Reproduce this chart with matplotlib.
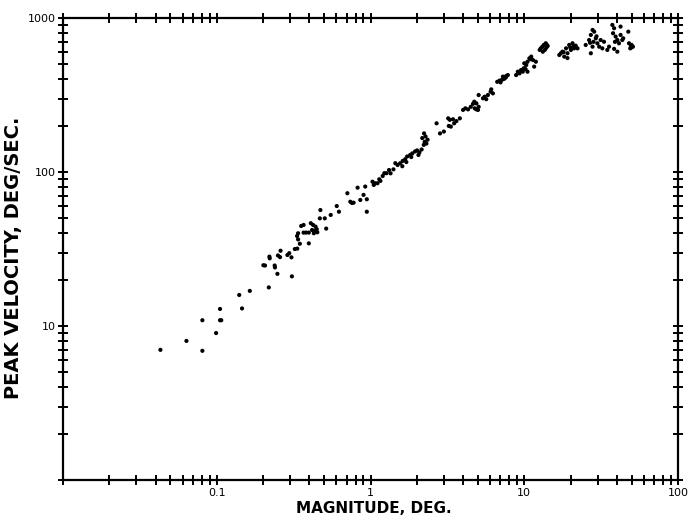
import numpy as np
import matplotlib.pyplot as plt
from matplotlib.ticker import FixedLocator, LogLocator, NullFormatter

# saccade magnitude (deg) vs peak velocity (deg/sec)
magnitude = [0.043, 0.0635, 0.0806, 0.0806, 0.099, 0.105, 0.107, 0.105, 0.146, 0.140,
             0.164, 0.218, 0.248, 0.308, 0.201, 0.206, 0.238, 0.239, 0.220, 0.221,
             0.250, 0.258, 0.260, 0.288, 0.296, 0.306, 0.322, 0.334, 0.333, 0.338,
             0.347, 0.338, 0.354, 0.367, 0.367, 0.381, 0.397, 0.409, 0.423, 0.439,
             0.417, 0.434, 0.447, 0.451, 0.397, 0.428, 0.472, 0.468, 0.504, 0.515,
             0.551, 0.603, 0.623, 0.707, 0.739, 0.757, 0.776, 0.824, 0.858, 0.901,
             0.946, 0.946, 0.924, 1.03, 1.07, 1.05, 1.11, 1.16, 1.14, 1.20,
             1.23, 1.27, 1.32, 1.35, 1.41, 1.45, 1.50, 1.56, 1.61, 1.62,
             1.68, 1.73, 1.81, 1.87, 1.95, 2.01, 2.08, 2.15, 1.71, 1.84,
             2.05, 2.23, 2.17, 2.28, 2.25, 2.22, 2.31, 2.35, 2.69, 2.83,
             3.00, 3.23, 3.50, 3.33, 3.28, 3.44, 3.62, 3.81, 3.20,
             4.00, 4.14, 4.31, 4.49, 4.64, 4.76, 4.88, 5.00, 5.05, 4.88,
             4.73, 5.05, 5.39, 5.52, 5.66, 5.80, 6.04, 6.25, 6.10,
             6.67, 6.91, 7.15, 7.45, 7.63, 7.82, 7.26, 7.01, 7.35, 7.60,
             8.85, 9.31, 9.78, 10.0, 10.3, 10.5, 10.8, 11.1, 9.53, 10.5,
             9.08, 10.0, 11.4, 11.9, 11.6, 10.2, 9.90, 11.0,
             12.8, 13.4, 13.8, 14.2, 13.2, 13.6, 12.6, 13.9, 13.1, 14.0,
             16.9, 17.7, 18.7, 19.6, 20.6, 21.6, 22.2, 19.1, 18.2, 20.1,
             21.1, 19.1, 17.3, 20.9, 19.9, 18.0,
             25.1, 26.4, 27.1, 27.8, 28.5, 29.2, 29.9, 30.7, 32.2, 31.4,
             33.0, 27.8, 27.1, 28.2, 29.5, 26.8,
             35.6, 34.7, 38.4, 40.3,
             37.4, 38.4, 37.8, 39.3, 40.3, 41.3, 43.4, 42.3, 42.3, 47.5,
             44.0, 38.9,
             48.0, 49.9, 48.9, 50.9, 49.4, 50.0]
velocity = [7.0, 8.0, 6.9, 10.9, 9.0, 10.9, 10.9, 12.9, 13.0, 15.9,
            16.9, 17.8, 21.8, 21.0, 24.8, 24.7, 24.7, 24.0, 28.2, 27.5,
            28.7, 28.0, 30.8, 28.9, 29.7, 27.9, 31.6, 31.8, 38.4, 36.5,
            34.2, 40.0, 44.6, 45.3, 40.4, 40.4, 34.4, 46.5, 45.3, 44.2,
            42.0, 41.6, 42.5, 40.6, 40.4, 40.0, 56.6, 50.0, 50.0, 42.9,
            52.6, 60.1, 55.2, 72.8, 64.1, 62.9, 63.2, 79.1, 65.8, 71.0,
            66.5, 55.2, 80.4, 86.5, 84.5, 82.4, 84.5, 87.5, 89.7, 94.2,
            98.2, 98.2, 103, 98, 104, 114, 111, 114, 109, 118,
            121, 126, 129, 132, 136, 138, 134, 140, 116, 125,
            129, 178, 166, 170, 157, 150, 153, 162, 207, 178,
            183, 199, 207, 197, 218, 220, 214, 223, 223,
            253, 259, 255, 265, 277, 259, 255, 253, 265, 279,
            286, 316, 301, 308, 297, 316, 332, 324, 344,
            385, 392, 396, 405, 420, 426, 416, 382, 402, 412,
            426, 437, 448, 471, 495, 520, 547, 561, 459, 448,
            448, 508, 533, 520, 483, 465, 470, 540,
            635, 668, 685, 658, 604, 620, 620, 640, 650, 670,
            575, 604, 635, 668, 685, 661, 635, 590, 561, 620,
            635, 549, 590, 650, 645, 600,
            668, 719, 776, 836, 815, 738, 685, 651, 635, 719,
            701, 651, 590, 700, 760, 690,
            651, 620, 630, 604,
            901, 858, 796, 757, 719, 685, 719, 776, 879, 815,
            738, 700,
            685, 668, 635, 651, 660, 645]

fig = plt.figure(figsize=(6.91, 5.21), dpi=100)
ax = fig.add_axes([0.0912, 0.0787, 0.8900, 0.8868])

ax.scatter(magnitude, velocity, s=9, c='black', edgecolors='none')

ax.set_xscale('log')
ax.set_yscale('log')
ax.set_xlim(0.01, 100)
ax.set_ylim(1, 1000)

ax.xaxis.set_major_locator(FixedLocator([0.01, 0.1, 1, 10, 100]))
ax.set_xticklabels(['', '0.1', '1', '10', '100'])
ax.yaxis.set_major_locator(FixedLocator([1, 10, 100, 1000]))
ax.set_yticklabels(['', '10', '100', '1000'])
for axis in (ax.xaxis, ax.yaxis):
    axis.set_minor_locator(LogLocator(base=10, subs=np.arange(2, 10)))
    axis.set_minor_formatter(NullFormatter())

ax.tick_params(which='both', direction='inout', length=7, width=1.4,
               top=True, right=True, labelsize=8, pad=2)

for sp in ax.spines.values():
    sp.set_linewidth(1.6)

ax.set_xlabel('MAGNITUDE, DEG.', fontsize=11, fontweight='bold')
ax.set_ylabel('PEAK VELOCITY, DEG/SEC.', fontsize=14, fontweight='bold')
ax.yaxis.set_label_coords(-0.065, 0.48)
ax.xaxis.set_label_coords(0.505, -0.045)

fig.savefig('out.png', dpi=100)
